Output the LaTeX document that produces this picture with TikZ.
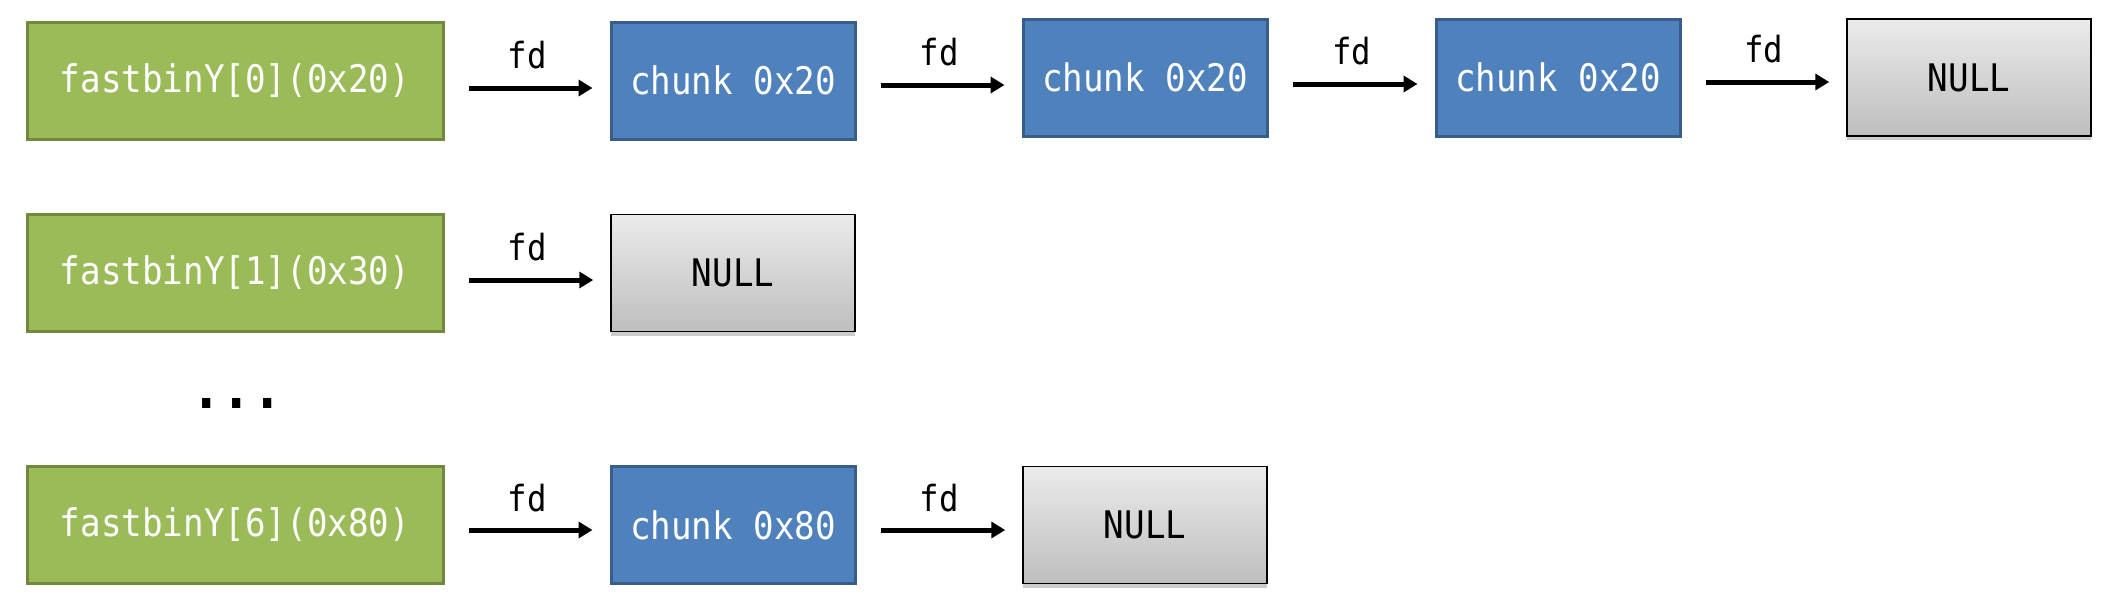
\documentclass[tikz,border=0pt]{standalone}
\usepackage{fontspec}
\setmonofont[FakeStretch=0.9]{DejaVu Sans Mono}
\usetikzlibrary{arrows.meta,shadows}
\definecolor{gfill}{HTML}{9BBB59}
\definecolor{gline}{HTML}{71893F}
\definecolor{bfill}{HTML}{4F81BD}
\definecolor{bline}{HTML}{385D8A}
\definecolor{ntop}{HTML}{EBEBEB}
\definecolor{nbot}{HTML}{BEBEBE}
\tikzset{
  box/.style={rectangle, inner sep=0pt, minimum height=117pt, font=\ttfamily\fontsize{38}{44}\selectfont},
  binbox/.style={box, fill=gfill, draw=gline, line width=3pt, minimum width=416pt, text=white},
  chunkbox/.style={box, fill=bfill, draw=bline, line width=3pt, minimum width=244pt, text=white},
  nullbox/.style={box, top color=ntop, bottom color=nbot, draw=black, line width=1.5pt, minimum width=244pt, text=black,
    drop shadow={shadow xshift=0pt, shadow yshift=-4pt, opacity=0.2, fill=black}},
  fdarrow/.style={line width=5pt, -{Triangle[length=14pt,width=16pt]}, shorten <=24pt, shorten >=17pt},
  fdlabel/.style={font=\ttfamily\fontsize{36}{42}\selectfont, text=black, inner sep=0pt}
}
\begin{document}
\begin{tikzpicture}[x=1pt,y=-1pt]
\useasboundingbox (0,0) rectangle (2118,598);
% row 1
\node[binbox]   (g0) at (235,80.5) {fastbinY[0](0x20)};
\node[chunkbox] (c1) at (733,80.5) {chunk 0x20};
\node[chunkbox] (c2) at (1145,77.5) {chunk 0x20};
\node[chunkbox] (c3) at (1558,77.5) {chunk 0x20};
\node[nullbox]  (n0) at (1969,77.5) {NULL};
% row 2
\node[binbox]   (g1) at (235,273) {fastbinY[1](0x30)};
\node[nullbox]  (n1) at (733,273) {NULL};
% dots
\node[font=\ttfamily\bfseries\fontsize{56}{60}\selectfont, inner sep=0pt, anchor=base] (dots) at (237,408) {...};
% row 3
\node[binbox]   (g6) at (235,525) {fastbinY[6](0x80)};
\node[chunkbox] (c6) at (733,525) {chunk 0x80};
\node[nullbox]  (n6) at (1145,525) {NULL};
% arrows
\draw[fdarrow] ([yshift=-7.5pt]g0.east) -- node[fdlabel, above=16pt] (l1) {fd} ([yshift=-7.5pt]c1.west);
\draw[fdarrow] ([yshift=-4.5pt]c1.east) -- node[fdlabel, above=16pt] (l2) {fd} ([yshift=-7.5pt]c2.west);
\draw[fdarrow] ([yshift=-6.5pt]c2.east) -- node[fdlabel, above=16pt] (l3) {fd} ([yshift=-6.5pt]c3.west);
\draw[fdarrow] ([yshift=-4.5pt]c3.east) -- node[fdlabel, above=16pt] (l4) {fd} ([yshift=-4.5pt]n0.west);
\draw[fdarrow] ([yshift=-7pt]g1.east) -- node[fdlabel, above=16pt] (l5) {fd} ([yshift=-7pt]n1.west);
\draw[fdarrow] ([yshift=-5pt]g6.east) -- node[fdlabel, above=16pt] (l6) {fd} ([yshift=-5pt]c6.west);
\draw[fdarrow] ([yshift=-5pt]c6.east) -- node[fdlabel, above=16pt] (l7) {fd} ([yshift=-5pt]n6.west);
\end{tikzpicture}
\end{document}
